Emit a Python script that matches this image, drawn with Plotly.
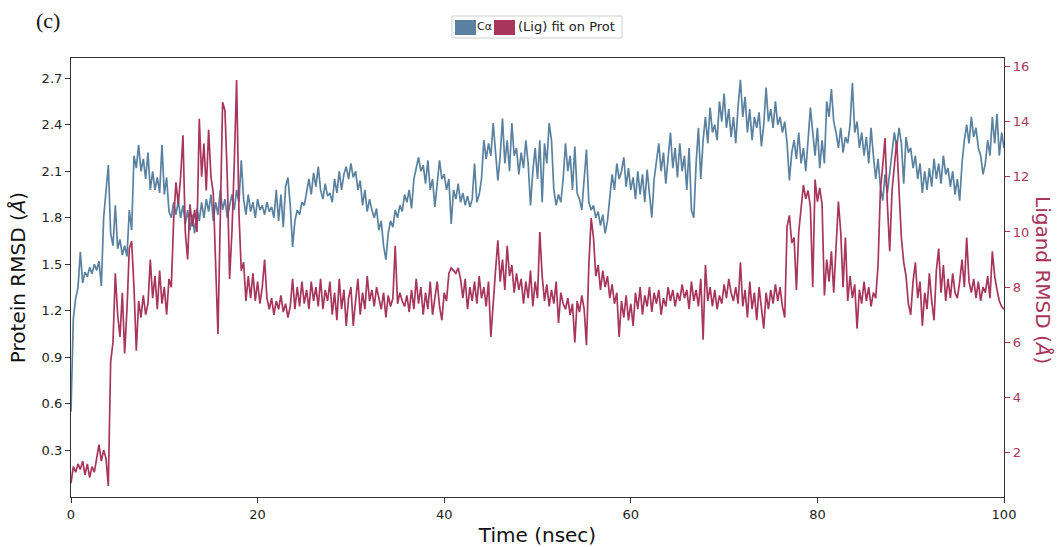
import numpy as np
import plotly.graph_objects as go

# Time axis (ns), sampled every 0.25 ns
time_ns = np.linspace(0, 100, 401)

# Protein C-alpha RMSD (Angstrom), left axis
protein_rmsd = [
    0.55, 1.15, 1.28, 1.35, 1.58, 1.38, 1.45, 1.42, 1.48, 1.44, 1.50, 1.46, 1.52, 1.36, 1.80, 1.95, 2.14, 1.70, 1.62, 1.88,
    1.60, 1.66, 1.56, 1.62, 1.55, 1.85, 1.72, 2.20, 2.12, 2.27, 2.10, 2.18, 2.05, 2.22, 1.98, 2.10, 1.98, 2.06, 1.96, 2.27,
    1.95, 2.06, 1.84, 1.80, 1.90, 1.82, 1.91, 1.80, 1.88, 1.76, 1.85, 1.72, 1.82, 1.70, 1.86, 1.78, 1.90, 1.80, 1.92, 1.84,
    1.95, 1.78, 1.90, 1.82, 1.98, 1.85, 1.92, 1.80, 1.88, 1.95, 1.85, 1.98, 1.90, 2.17, 1.92, 1.82, 1.95, 1.84, 1.90, 1.80,
    1.92, 1.85, 1.88, 1.82, 1.90, 1.84, 1.87, 1.80, 1.98, 1.78, 1.95, 1.74, 2.00, 2.06, 1.88, 1.61, 1.78, 1.85, 1.82, 1.90,
    1.88, 1.96, 2.05, 1.95, 2.09, 2.00, 2.13, 1.98, 1.92, 2.02, 1.94, 1.96, 1.90, 2.05, 1.96, 2.10, 1.98, 2.08, 2.13, 2.05,
    2.15, 2.06, 2.10, 1.98, 2.04, 1.88, 1.98, 1.84, 1.92, 1.85, 1.80, 1.86, 1.72, 1.78, 1.62, 1.53, 1.70, 1.78, 1.74, 1.85,
    1.80, 1.88, 1.84, 1.95, 1.90, 1.98, 1.86, 2.05, 2.12, 2.19, 2.10, 2.14, 2.02, 2.17, 1.98, 2.05, 1.87, 2.00, 2.17, 2.05,
    2.08, 1.98, 2.05, 1.76, 1.98, 1.92, 2.02, 1.90, 1.96, 1.88, 1.94, 1.87, 1.92, 2.15, 1.90, 1.95, 2.05, 2.30, 2.18, 2.28,
    2.20, 2.41, 2.22, 2.04, 2.20, 2.44, 2.15, 2.30, 2.10, 2.41, 2.20, 2.25, 2.08, 2.22, 2.12, 2.30, 2.15, 1.88, 2.10, 2.25,
    2.05, 2.30, 1.90, 2.28, 2.15, 2.41, 2.30, 1.98, 1.88, 1.95, 1.90, 2.05, 2.28, 2.10, 2.20, 1.98, 2.26, 1.96, 1.92, 1.85,
    2.05, 2.24, 1.90, 1.85, 1.88, 1.80, 1.84, 1.75, 1.82, 1.70, 1.78, 1.95, 2.08, 1.98, 2.15, 2.05, 2.10, 2.19, 2.00, 2.12,
    1.98, 2.06, 1.92, 2.10, 1.95, 2.08, 1.90, 2.11, 1.96, 1.80, 2.05, 2.15, 2.28, 2.10, 2.22, 2.02, 2.20, 2.35, 2.12, 2.25,
    2.06, 2.28, 2.10, 2.20, 1.98, 2.25, 1.85, 1.80, 2.15, 2.38, 2.05, 2.30, 2.45, 2.28, 2.51, 2.35, 2.40, 2.30, 2.55, 2.42,
    2.60, 2.38, 2.50, 2.32, 2.45, 2.28, 2.52, 2.69, 2.45, 2.58, 2.35, 2.50, 2.30, 2.45, 2.38, 2.48, 2.26, 2.40, 2.64, 2.42,
    2.50, 2.38, 2.55, 2.40, 2.45, 2.35, 2.42, 2.28, 2.04, 2.22, 2.30, 2.18, 2.35, 2.15, 2.25, 2.10, 2.30, 2.51, 2.35, 2.20,
    2.38, 2.12, 2.30, 2.15, 2.55, 2.45, 2.63, 2.42, 2.35, 2.25, 2.38, 2.22, 2.32, 2.28, 2.40, 2.67, 2.35, 2.42, 2.25, 2.35,
    2.20, 2.32, 2.15, 2.38, 2.20, 2.05, 2.18, 2.00, 1.91, 2.08, 1.96, 2.10, 2.20, 2.35, 2.25, 2.38, 2.28, 2.02, 2.32, 2.22,
    2.25, 2.12, 2.20, 2.05, 2.15, 1.96, 2.10, 1.98, 2.12, 2.00, 2.18, 2.05, 2.15, 2.02, 2.20, 2.08, 2.12, 2.00, 2.10, 1.95,
    2.05, 1.91, 2.15, 2.30, 2.40, 2.28, 2.45, 2.32, 2.38, 2.25, 2.20, 2.08, 2.15, 2.30, 2.20, 2.45, 2.28, 2.47, 2.20, 2.35,
    2.25,
]

# Ligand RMSD fit on protein (Angstrom), right axis
ligand_rmsd = [
    0.9, 1.5, 1.3, 1.6, 1.4, 1.7, 1.2, 1.6, 1.1, 1.5, 1.3, 1.8, 2.3, 1.7, 2.1, 1.8, 0.8, 5.3, 6.0, 8.5,
    7.0, 6.2, 7.8, 5.6, 7.2, 9.4, 9.66, 8.0, 5.7, 7.5, 6.9, 7.7, 7.0, 7.4, 9.0, 7.6, 8.4, 7.2, 8.6, 7.4,
    8.0, 7.0, 8.3, 8.0, 10.4, 11.8, 11.0, 12.0, 13.5, 10.0, 9.0, 11.0, 10.2, 10.8, 10.0, 14.1, 12.0, 13.2, 11.5, 13.7,
    12.0, 11.4, 9.0, 6.3, 10.5, 14.7, 14.4, 12.0, 8.3, 10.0, 12.5, 15.5, 10.7, 8.6, 8.9, 7.5, 8.4, 7.6, 8.5, 7.5,
    8.2, 7.4, 8.0, 9.0, 7.6, 7.2, 7.6, 7.0, 7.5, 7.2, 7.7, 7.1, 7.4, 6.9, 7.3, 8.3, 7.2, 8.0, 7.3, 8.2,
    7.4, 7.9, 7.2, 8.2, 7.5, 8.0, 7.3, 8.3, 7.2, 7.9, 7.5, 8.2, 7.0, 7.8, 6.8, 8.3, 7.2, 7.9, 6.6, 7.6,
    8.0, 6.6, 7.5, 8.3, 7.0, 7.8, 7.2, 8.4, 7.5, 7.9, 7.3, 8.0, 7.6, 7.2, 7.8, 6.9, 7.7, 7.3, 7.6, 9.5,
    7.4, 7.8, 7.5, 7.3, 7.7, 7.1, 7.9, 7.2, 8.3, 7.4, 8.0, 7.0, 7.8, 7.2, 8.2, 7.0, 7.6, 8.2, 7.3, 6.8,
    7.8, 7.5, 8.5, 8.7, 8.6, 8.5, 8.7, 8.3, 7.6, 8.3, 7.2, 8.0, 7.5, 8.2, 7.4, 8.4, 7.6, 8.0, 7.3, 8.2,
    6.2, 7.6, 8.6, 9.7, 8.2, 9.0, 7.9, 9.5, 8.4, 8.8, 7.8, 8.5, 7.9, 8.3, 7.4, 8.2, 7.6, 8.6, 7.3, 8.2,
    7.6, 10.0, 8.4, 7.5, 8.1, 7.3, 7.9, 7.4, 8.2, 6.7, 7.8, 7.4, 7.2, 7.6, 7.0, 7.4, 6.0, 7.5, 7.1, 7.7,
    7.2, 5.9, 8.8, 10.5, 9.8, 8.4, 8.8, 7.9, 8.6, 8.0, 8.4, 7.6, 8.1, 7.4, 7.8, 6.2, 7.5, 6.9, 7.7, 6.8,
    7.4, 6.6, 7.8, 7.2, 8.0, 7.0, 7.7, 7.3, 8.0, 7.1, 7.8, 7.4, 7.9, 7.0, 7.6, 7.3, 8.0, 7.5, 7.9, 7.3,
    7.8, 7.5, 8.1, 7.6, 7.9, 7.2, 8.2, 7.5, 7.9, 7.3, 8.3, 6.1, 8.8, 7.5, 8.0, 7.3, 7.9, 7.2, 7.7, 7.4,
    8.1, 7.6, 8.3, 7.8, 7.5, 8.0, 7.4, 8.9, 7.3, 7.9, 6.9, 8.2, 7.2, 7.8, 6.8, 8.0, 7.3, 6.5, 7.8, 7.2,
    7.9, 7.4, 8.1, 7.5, 8.0, 7.3, 6.9, 10.2, 10.6, 9.6, 9.8, 7.9, 10.0, 10.8, 11.7, 11.2, 11.5, 10.9, 8.0, 11.9,
    11.1, 11.6, 11.0, 7.7, 9.0, 8.2, 9.3, 7.8, 9.4, 11.1, 10.0, 8.0, 9.8, 7.5, 8.4, 7.6, 8.1, 6.5, 7.9, 7.4,
    8.2, 7.5, 8.0, 7.3, 7.8, 7.6, 8.8, 11.5, 12.4, 13.4, 11.0, 9.3, 11.5, 12.5, 13.3, 11.5, 9.8, 8.9, 8.4, 7.4,
    7.0, 8.2, 8.9, 7.6, 8.2, 6.6, 7.8, 7.2, 8.5, 7.5, 6.8, 8.6, 9.4, 7.8, 8.8, 7.5, 8.3, 7.6, 8.5, 7.8,
    7.6, 8.2, 9.0, 8.0, 9.8, 8.2, 7.8, 8.3, 7.6, 8.2, 7.5, 8.0, 7.8, 8.4, 7.6, 9.3, 8.4, 7.9, 7.5, 7.3,
    7.2,
]

left_ticks = [0.3, 0.6, 0.9, 1.2, 1.5, 1.8, 2.1, 2.4, 2.7]
right_ticks = [2, 4, 6, 8, 10, 12, 14, 16]
x_ticks = [0, 20, 40, 60, 80, 100]

BLUE = "#5a82a0"
RED = "#a8355c"
FONT = "DejaVu Sans"

fig = go.Figure()
fig.add_trace(go.Scatter(x=time_ns, y=protein_rmsd, mode="lines",
                         line=dict(color=BLUE, width=1.7), name="Cα",
                         showlegend=False))
fig.add_trace(go.Scatter(x=time_ns, y=ligand_rmsd, mode="lines",
                         line=dict(color=RED, width=1.7), name="(Lig) fit on Prot",
                         yaxis="y2", showlegend=False))

W, H = 1061, 547
L, R, T, B = 71, 57, 58, 50
pw, ph = W - L - R, H - T - B


def px(xp):
    return (xp - L) / pw


def py(yp):
    return (H - B - yp) / ph


fig.update_layout(
    width=W, height=H,
    margin=dict(l=L, r=R, t=T, b=B),
    paper_bgcolor="white", plot_bgcolor="white",
    font=dict(family=FONT, color="#222222"),
    xaxis=dict(range=[0, 100], tickvals=x_ticks, ticks="outside", ticklen=5,
               tickcolor="#333", showline=True, linecolor="#333", linewidth=1.2,
               mirror=True, showgrid=False, zeroline=False, automargin=False,
               tickfont=dict(size=13, color="#222"),
               title=dict(text="Time (nsec)", font=dict(size=20, color="#111"), standoff=10)),
    yaxis=dict(range=[0, 2.83], tickvals=left_ticks, ticktext=[f"{v:.1f}" for v in left_ticks],
               ticks="outside", ticklen=5, tickcolor="#333", showline=True,
               linecolor="#333", linewidth=1.2, showgrid=False, zeroline=False,
               automargin=False,
               tickfont=dict(size=13, color="#222"),
               title=dict(text="Protein RMSD (<i>Å</i>)", font=dict(size=20, color="#111"), standoff=10)),
    yaxis2=dict(range=[0.4, 16.3], tickvals=right_ticks, overlaying="y", side="right",
                ticks="outside", ticklen=5, tickcolor=RED, showline=True,
                linecolor="#333", linewidth=1.2, showgrid=False, zeroline=False,
                automargin=False,
                tickfont=dict(size=13, color=RED)),
)

shapes = [
    dict(type="rect", xref="paper", yref="paper", x0=px(452), x1=px(622), y0=py(38), y1=py(16),
         line=dict(color="#d0d0d0", width=1), fillcolor="white", layer="above"),
    dict(type="rect", xref="paper", yref="paper", x0=px(455), x1=px(476), y0=py(35), y1=py(20),
         line=dict(width=0), fillcolor=BLUE, layer="above"),
    dict(type="rect", xref="paper", yref="paper", x0=px(494), x1=px(515), y0=py(35), y1=py(20),
         line=dict(width=0), fillcolor=RED, layer="above"),
]
fig.update_layout(shapes=shapes)

annotations = [
    dict(text="Ligand RMSD (<i>Å</i>)", x=px(1043), y=py(280), xref="paper", yref="paper",
         showarrow=False, textangle=90, font=dict(size=20, color=RED, family=FONT),
         xanchor="center", yanchor="middle"),
    dict(text="(c)", x=px(34), y=py(21), xref="paper", yref="paper", showarrow=False,
         font=dict(size=22, color="#111", family="Liberation Serif"),
         xanchor="left", yanchor="middle"),
    dict(text="Cα", x=px(484.5), y=py(27), xref="paper", yref="paper", showarrow=False,
         font=dict(size=11, color="#222", family=FONT), xanchor="center", yanchor="middle",
         borderpad=0),
    dict(text="(Lig) fit on Prot", x=px(516), y=py(27), xref="paper", yref="paper",
         showarrow=False, font=dict(size=13, color="#222", family=FONT),
         xanchor="left", yanchor="middle"),
]
fig.update_layout(annotations=annotations)

fig.write_html("out.html")
